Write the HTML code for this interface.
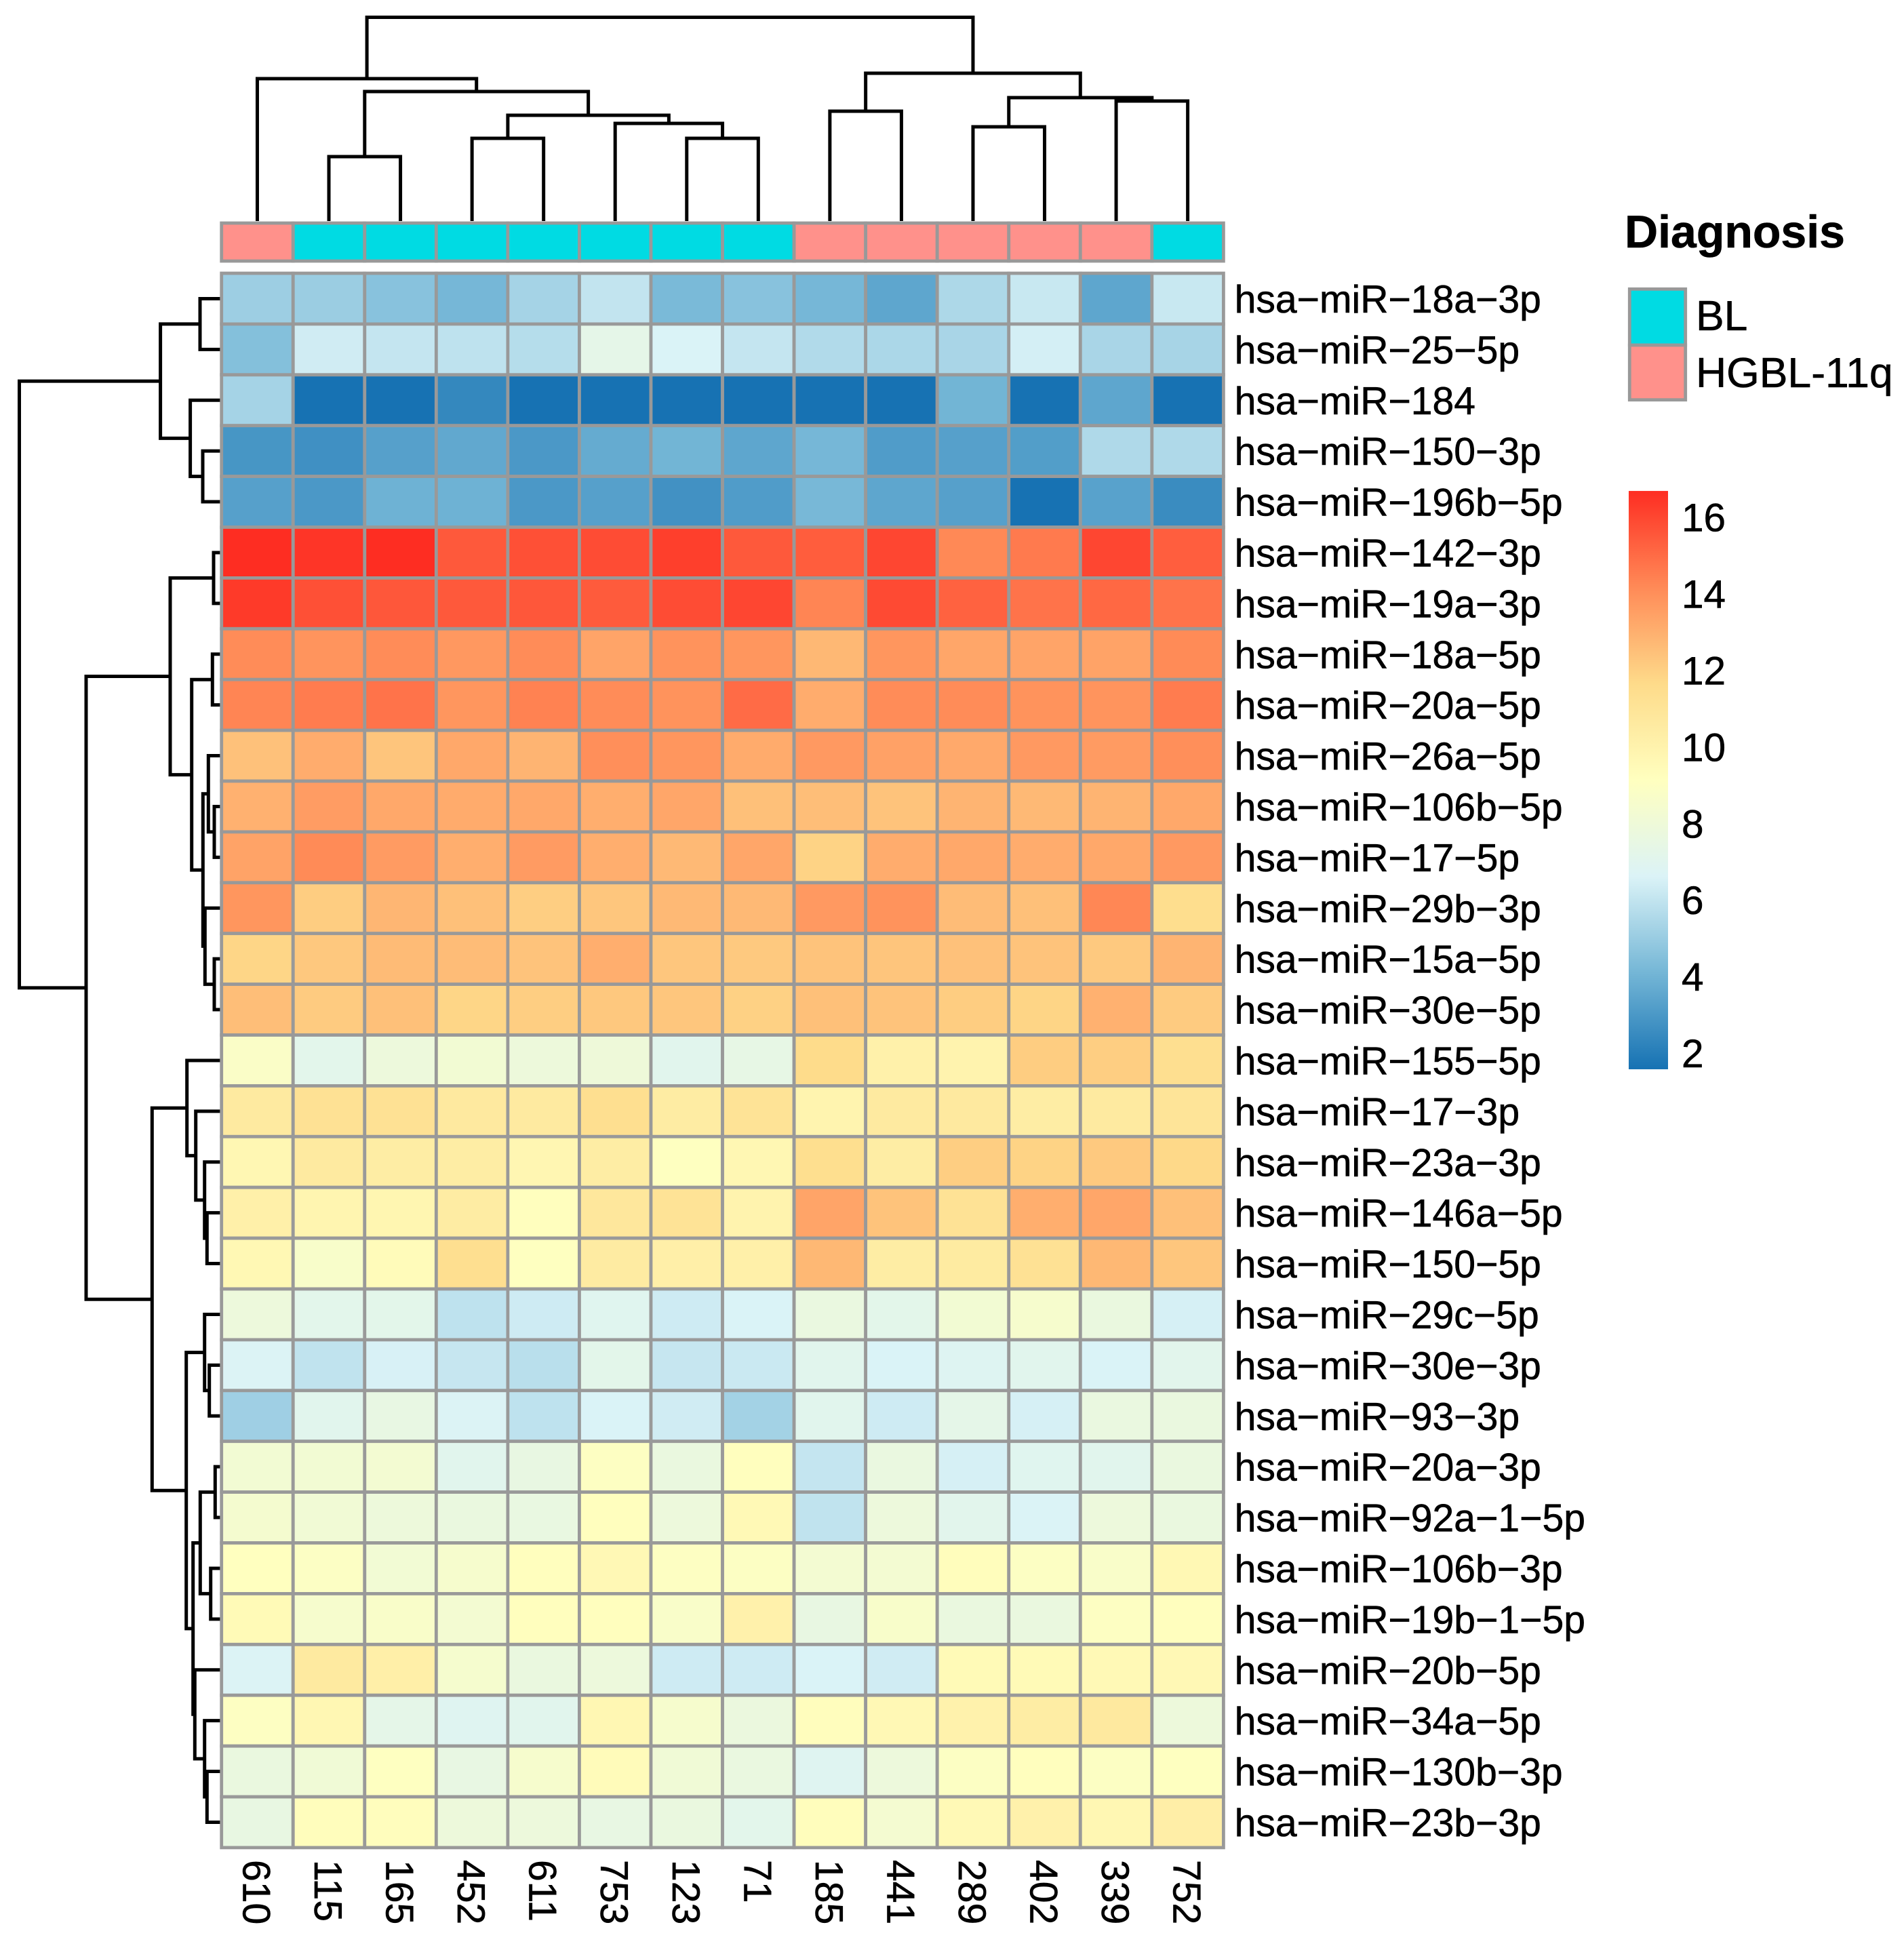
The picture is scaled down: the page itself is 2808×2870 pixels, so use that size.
<!DOCTYPE html>
<html lang="en">
<head>
<meta charset="utf-8">
<title>miRNA expression heatmap</title>
<style>
html,body{margin:0;padding:0;background:#fff;}
svg{display:block;}
text{font-family:"Liberation Sans",Arial,sans-serif;fill:#000;stroke:#000;stroke-width:0.6px;}
</style>
</head>
<body>
<svg id="chart" xmlns="http://www.w3.org/2000/svg" width="2808" height="2870" viewBox="0 0 2808 2870">
<defs><linearGradient id="ramp" x1="0" y1="1" x2="0" y2="0"></linearGradient></defs>
<g id="col-dendro"></g>
<g id="row-dendro"></g>
<g id="annot"></g>
<g id="cells"></g>
<g id="row-labels"></g>
<g id="col-labels"></g>
<g id="legend">
<text x="2396" y="365" font-size="68" font-weight="bold">Diagnosis</text>
<rect x="2403.3" y="426.3" width="82.4" height="82.7" fill="#00dbe3" stroke="#999999" stroke-width="4.8"/>
<rect x="2403.3" y="509" width="82.4" height="80.7" fill="#ff918b" stroke="#999999" stroke-width="4.8"/>
<text x="2501" y="487" font-size="62.5">BL</text>
<text x="2501" y="571" font-size="62.5">HGBL-11q</text>
</g>
<g id="colorbar"></g>
</svg>
<script>
var rowNames = ["hsa\u2212miR\u221218a\u22123p","hsa\u2212miR\u221225\u22125p","hsa\u2212miR\u2212184","hsa\u2212miR\u2212150\u22123p","hsa\u2212miR\u2212196b\u22125p","hsa\u2212miR\u2212142\u22123p","hsa\u2212miR\u221219a\u22123p","hsa\u2212miR\u221218a\u22125p","hsa\u2212miR\u221220a\u22125p","hsa\u2212miR\u221226a\u22125p","hsa\u2212miR\u2212106b\u22125p","hsa\u2212miR\u221217\u22125p","hsa\u2212miR\u221229b\u22123p","hsa\u2212miR\u221215a\u22125p","hsa\u2212miR\u221230e\u22125p","hsa\u2212miR\u2212155\u22125p","hsa\u2212miR\u221217\u22123p","hsa\u2212miR\u221223a\u22123p","hsa\u2212miR\u2212146a\u22125p","hsa\u2212miR\u2212150\u22125p","hsa\u2212miR\u221229c\u22125p","hsa\u2212miR\u221230e\u22123p","hsa\u2212miR\u221293\u22123p","hsa\u2212miR\u221220a\u22123p","hsa\u2212miR\u221292a\u22121\u22125p","hsa\u2212miR\u2212106b\u22123p","hsa\u2212miR\u221219b\u22121\u22125p","hsa\u2212miR\u221220b\u22125p","hsa\u2212miR\u221234a\u22125p","hsa\u2212miR\u2212130b\u22123p","hsa\u2212miR\u221223b\u22123p"];
var sampleNames = ["610","115","165","452","611","753","123","71","185","441","289","402","339","752"];
var sampleDiagnosis = ["HGBL-11q","BL","BL","BL","BL","BL","BL","BL","HGBL-11q","HGBL-11q","HGBL-11q","HGBL-11q","HGBL-11q","BL"];
var expression = [
[5.1,5.05,4.6,4.15,5.3,6.0,4.25,4.6,4.15,3.5,5.5,6.15,3.5,6.15],
[4.5,6.35,6.05,5.9,5.7,7.3,6.6,6.05,5.6,5.45,5.4,6.45,5.4,5.35],
[5.3,1.6,1.6,2.4,1.6,1.6,1.6,1.6,1.6,1.6,4.05,1.6,3.5,1.6],
[2.9,2.7,3.3,3.6,3.0,3.7,4.05,3.5,4.15,3.15,3.3,3.2,5.55,5.55],
[3.3,3.0,3.95,3.95,3.0,3.3,2.75,3.15,4.2,3.5,3.3,1.6,3.35,2.55],
[16.69,16.47,16.69,15.5,15.75,15.85,16.2,15.5,15.4,16.0,14.2,14.6,16.0,15.35],
[16.35,15.75,15.55,15.5,15.55,15.45,15.85,16.0,14.3,15.9,15.25,14.8,15.1,14.8],
[14.1,13.85,14.1,13.75,14.1,13.35,13.9,13.8,12.75,13.8,13.3,13.35,13.4,14.15],
[14.3,14.55,14.8,13.8,14.4,14.1,13.9,15.0,13.1,14.1,14.1,13.9,13.85,14.55],
[12.45,13.1,12.35,13.25,12.85,14.0,13.8,13.15,13.7,13.45,13.2,13.7,13.65,14.0],
[12.95,13.6,13.25,13.15,13.25,13.05,13.3,12.5,12.55,12.4,12.85,12.7,12.85,13.25],
[13.4,14.15,13.65,13.05,13.65,13.05,12.7,13.3,11.9,13.1,13.25,13.1,13.25,13.7],
[13.8,12.1,12.8,12.5,12.05,12.3,12.7,12.7,13.7,13.9,12.6,12.5,14.25,11.45],
[11.8,12.25,12.65,12.6,12.4,13.05,12.3,12.2,12.4,12.35,12.45,12.4,12.2,12.85],
[12.55,12.15,12.5,11.8,12.05,12.25,12.3,11.95,12.5,12.4,12.1,11.85,12.95,12.15],
[8.8,7.15,7.85,8.25,7.9,7.95,7.05,7.45,11.6,10.15,9.95,12.1,12.05,11.35],
[10.6,11.2,11.2,10.65,10.6,11.35,10.45,11.1,9.9,10.6,10.65,10.4,10.6,11.0],
[9.7,10.6,10.4,10.4,9.75,10.4,9.1,9.7,11.4,10.4,12.05,11.9,12.2,11.7],
[10.2,9.85,9.8,10.45,9.2,10.8,11.1,9.95,13.35,12.4,11.15,13.05,13.3,12.5],
[9.65,8.65,9.4,11.35,9.1,10.5,10.25,10.2,12.75,10.4,10.55,11.2,12.75,12.3],
[7.85,7.15,7.2,5.9,6.3,7.0,6.3,6.6,7.65,7.2,8.25,8.5,7.7,6.5],
[6.7,5.95,6.55,6.1,5.8,7.2,6.1,6.2,7.05,6.6,6.85,7.05,6.6,7.1],
[5.15,7.05,7.5,6.7,5.9,6.6,6.35,5.25,7.05,6.3,7.3,6.5,7.65,7.7],
[8.25,8.25,8.3,7.05,7.55,9.0,7.7,9.2,6.05,7.65,6.5,7.0,7.05,7.7],
[8.4,8.15,7.9,7.7,7.6,9.2,7.85,9.55,5.95,7.85,7.1,6.65,7.85,7.7],
[9.15,8.9,8.2,8.5,9.2,9.6,9.0,8.95,8.3,8.3,9.3,8.95,8.7,9.65],
[9.5,8.5,8.7,8.3,9.2,9.2,8.7,10.1,7.55,8.65,7.7,7.7,9.0,9.2],
[6.7,10.6,10.25,8.45,7.7,7.85,6.3,6.3,6.6,6.35,9.5,9.5,9.55,9.6],
[9.0,9.7,7.3,6.9,7.05,9.7,8.5,7.75,9.25,9.6,10.05,10.4,10.65,7.9],
[7.7,8.1,9.05,7.5,8.5,9.4,8.1,7.65,6.9,7.85,8.95,9.2,8.95,9.1],
[7.55,9.3,9.25,7.9,7.85,7.5,7.7,7.15,9.3,8.35,9.55,10.1,9.7,10.3]
];
// merge tables in hclust form: [left, right, height]; negative = leaf, positive = earlier merge
var rowMerges = [
[-1,-2,3.0],[-4,-5,2.6],[-3,2,4.44],[1,3,8.84],[-6,-7,1.0],[-8,-9,1.17],[-11,-12,0.9],[-10,7,1.77],
[-14,-15,0.9],[-13,9,2.27],[8,10,2.57],[6,11,4.23],[5,12,7.4],[-19,-20,1.97],[-18,14,2.33],[-17,15,3.63],
[-16,16,4.93],[-22,-23,1.63],[-21,18,2.33],[-24,-25,0.77],[-26,-27,1.43],[20,21,2.97],[-30,-31,1.97],
[-29,23,2.33],[-28,24,3.77],[22,25,4.03],[19,26,5.03],[17,27,10.07],[13,28,19.8],[4,29,29.65]
];
var colMerges = [
[-2,-3,9.5],[-4,-5,12.2],[-7,-8,12.2],[-6,3,14.4],[2,4,15.6],[1,5,19.1],[-1,6,21.0],
[-9,-10,16.2],[-11,-12,13.9],[-13,-14,17.7],[9,10,18.2],[8,11,21.8],[7,12,30.05]
];
var colorDomain = [1.586,4.1,6.62,9.14,11.65,14.17,16.69];
var colorRange = ["#1672b3","#74b6d6","#dbf3f7","#ffffbf","#fedb8a","#ff8a57","#fe2d22"];
var colorbarTicks = [2,4,6,8,10,12,14,16];
var diagnosisColors = {"BL":"#00dbe3","HGBL-11q":"#ff918b"};

var NS = "http://www.w3.org/2000/svg";
var GRID = "#999999";
var GRID_W = 4.8;
var DENDRO_W = 5;
var X0 = 326.7, COLW = 105.55, Y0 = 403, ROWH = 74.9;
function xBand(i){ return X0 + i * COLW; }
function yBand(j){ return Y0 + j * ROWH; }
function xMid(i){ return xBand(i) + COLW / 2; }
function yMid(j){ return yBand(j) + ROWH / 2; }
function colDendroY(h){ return 326 - h * 10; }
function rowDendroX(h){ return 325 - h * 10; }
function colorbarY(v){ return 1553.6 - 56.47 * (v - 2); }

function hex(c){ return [parseInt(c.substr(1,2),16),parseInt(c.substr(3,2),16),parseInt(c.substr(5,2),16)]; }
function colorOf(v){
  var n = colorDomain.length;
  if (v <= colorDomain[0]) return colorRange[0];
  if (v >= colorDomain[n-1]) return colorRange[n-1];
  for (var i = 0; i < n-1; i++){
    if (v <= colorDomain[i+1]){
      var t = (v - colorDomain[i]) / (colorDomain[i+1] - colorDomain[i]);
      var a = hex(colorRange[i]), b = hex(colorRange[i+1]);
      return "rgb(" + Math.round(a[0]+(b[0]-a[0])*t) + "," + Math.round(a[1]+(b[1]-a[1])*t) + "," + Math.round(a[2]+(b[2]-a[2])*t) + ")";
    }
  }
}
function mk(tag, attrs, parent){
  var el = document.createElementNS(NS, tag);
  for (var k in attrs) el.setAttribute(k, attrs[k]);
  parent.appendChild(el);
  return el;
}

// column dendrogram
var colG = document.getElementById("col-dendro");
var colNodes = [];
function colNode(ref){
  if (ref < 0) return {p: xMid(-ref - 1), h: 0};
  return colNodes[ref - 1];
}
colMerges.forEach(function(m, idx){
  var a = colNode(m[0]), b = colNode(m[1]);
  var y = colDendroY(m[2]);
  var pl = mk("polyline", {points: a.p+","+colDendroY(a.h)+" "+a.p+","+y+" "+b.p+","+y+" "+b.p+","+colDendroY(b.h), fill:"none", stroke:"#000", "stroke-width":DENDRO_W, "stroke-linejoin":"miter"}, colG);
  
  
  colNodes[idx] = {p: (a.p + b.p) / 2, h: m[2]};
});

// row dendrogram
var rowG = document.getElementById("row-dendro");
var rowNodes = [];
function rowNode(ref){
  if (ref < 0) return {p: yMid(-ref - 1), h: 0};
  return rowNodes[ref - 1];
}
rowMerges.forEach(function(m, idx){
  var a = rowNode(m[0]), b = rowNode(m[1]);
  var x = rowDendroX(m[2]);
  var pl = mk("polyline", {points: rowDendroX(a.h)+","+a.p+" "+x+","+a.p+" "+x+","+b.p+" "+rowDendroX(b.h)+","+b.p, fill:"none", stroke:"#000", "stroke-width":DENDRO_W, "stroke-linejoin":"miter"}, rowG);
  
  
  rowNodes[idx] = {p: (a.p + b.p) / 2, h: m[2]};
});

// annotation strip
var annotG = document.getElementById("annot");
sampleDiagnosis.forEach(function(d, i){
  var r = mk("rect", {x: xBand(i), y: 329, width: COLW, height: 56, fill: diagnosisColors[d], stroke: GRID, "stroke-width": GRID_W}, annotG);
  
  
});

// heatmap cells
var cellG = document.getElementById("cells");
expression.forEach(function(row, j){
  row.forEach(function(v, i){
    var r = mk("rect", {x: xBand(i), y: yBand(j), width: COLW, height: ROWH, fill: colorOf(v), stroke: GRID, "stroke-width": GRID_W}, cellG);
    
    
  });
});

// row labels
var rlG = document.getElementById("row-labels");
rowNames.forEach(function(name, j){
  var t = mk("text", {x: 1820.6, y: yMid(j) + 20.5, "font-size": 57.1}, rlG);
  t.textContent = name;
  
  
});

// column labels
var clG = document.getElementById("col-labels");
sampleNames.forEach(function(name, i){
  var bx = xMid(i) - 21;
  var t = mk("text", {x: bx, y: 2743, "font-size": 57.1, transform: "rotate(90 " + bx + " 2743)"}, clG);
  t.textContent = name;
  
  
});

// color scale
var ramp = document.getElementById("ramp");
colorDomain.forEach(function(v, i){
  mk("stop", {offset: (v - colorDomain[0]) / (colorDomain[colorDomain.length-1] - colorDomain[0]), "stop-color": colorRange[i]}, ramp);
});
var cbG = document.getElementById("colorbar");
var cbTop = colorbarY(colorDomain[colorDomain.length-1]);
var cbBot = colorbarY(colorDomain[0]);
var cb = mk("rect", {x: 2402, y: cbTop, width: 58, height: cbBot - cbTop, fill: "url(#ramp)"}, cbG);


colorbarTicks.forEach(function(v){
  var t = mk("text", {x: 2480, y: colorbarY(v) + 20.5, "font-size": 58.5}, cbG);
  t.textContent = String(v);
  
  
});
</script>
</body>
</html>
